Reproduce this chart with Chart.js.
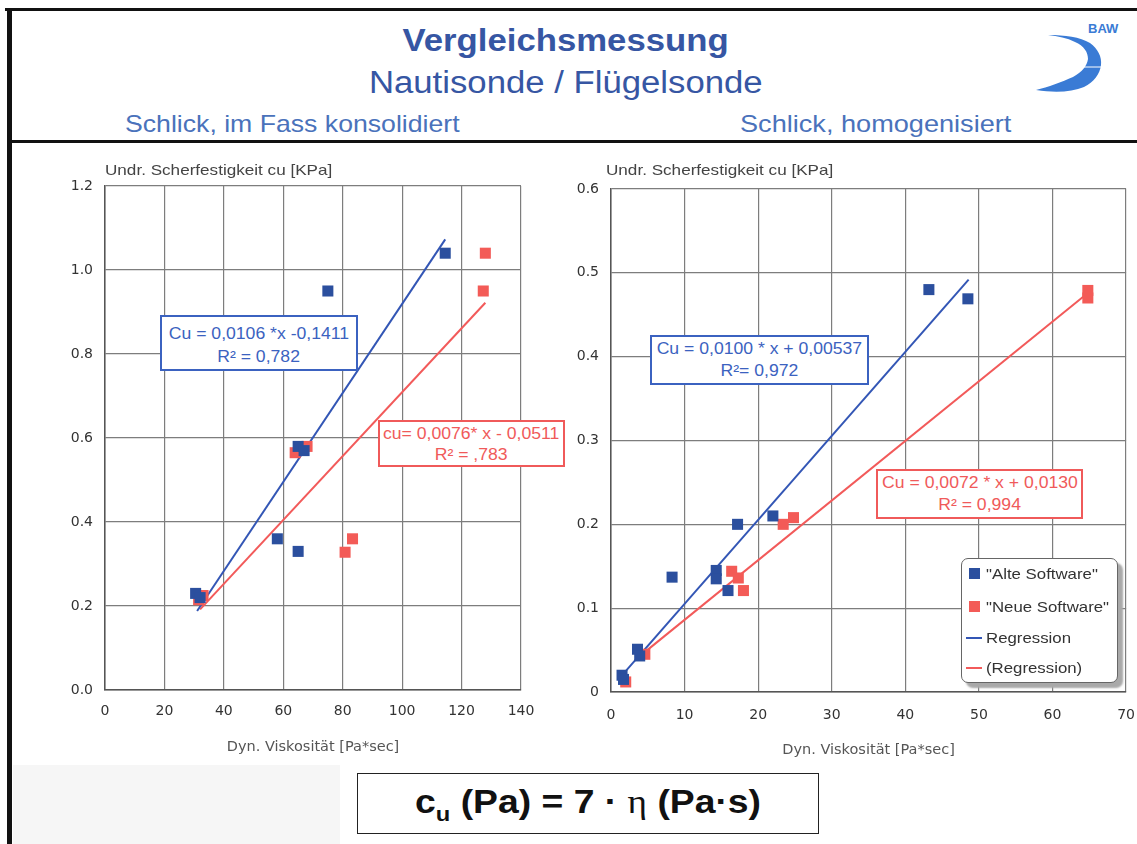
<!DOCTYPE html>
<html><head><meta charset="utf-8">
<script src="https://cdn.jsdelivr.net/npm/chart.js@4"></script>
<style>
html,body{margin:0;padding:0;background:#fff;overflow:hidden;width:1137px;height:844px;}
#page{position:relative;width:1137px;height:844px;overflow:hidden;font-family:"Liberation Sans",Arial,sans-serif;background:#fff;}
.abs{position:absolute;}
.sx{display:inline-block;transform:scaleX(1.12);white-space:nowrap;}
.sxl{display:inline-block;transform:scaleX(1.12);transform-origin:left center;white-space:nowrap;}
.box{position:absolute;box-sizing:border-box;background:#fff;text-align:center;font-size:16px;z-index:5;}
.box .sx{transform:scaleX(1.1);}
canvas{position:absolute;}
.leg{position:absolute;left:961px;top:558px;width:157px;height:125px;box-sizing:border-box;border:1px solid #666;border-radius:7px;background:#fff;box-shadow:5px 5px 2px #a9a9a9;z-index:5;font-size:15px;color:#333;}
.leg .row{position:absolute;left:0;height:20px;line-height:20px;}
</style></head>
<body><div id="page">
<div class="abs" style="left:13px;top:765px;width:327px;height:79px;background:#f6f6f6;"></div>
<canvas id="cL" width="560" height="607" style="left:0;top:150px;"></canvas>
<canvas id="cR" width="590" height="610" style="left:560px;top:150px;"></canvas>

<!-- frame -->
<div class="abs" style="left:5px;top:8px;width:1140px;height:3px;background:#111;z-index:6"></div>
<div class="abs" style="left:7px;top:8px;width:5px;height:840px;background:#111;z-index:6"></div>
<div class="abs" style="left:7px;top:140px;width:1140px;height:3px;background:#111;z-index:6"></div>

<!-- header -->
<div class="abs" style="left:0;top:21px;width:1132px;text-align:center;font-size:31px;font-weight:bold;line-height:40px;color:#3656a3;"><span class="sx">Vergleichsmessung</span></div>
<div class="abs" style="left:0;top:63px;width:1132px;text-align:center;font-size:31px;line-height:40px;color:#3656a3;"><span class="sx">Nautisonde / Flügelsonde</span></div>
<div class="abs" style="left:125px;top:110px;font-size:24px;line-height:28px;color:#4a72bb;"><span class="sxl" style="transform:scaleX(1.11)">Schlick, im Fass konsolidiert</span></div>
<div class="abs" style="left:740px;top:110px;font-size:24px;line-height:28px;color:#4a72bb;"><span class="sxl" style="transform:scaleX(1.13)">Schlick, homogenisiert</span></div>

<!-- logo -->
<svg class="abs" style="left:1020px;top:10px;" width="117" height="100" viewBox="0 0 117 100">
<path d="M28,25 C45,25 60,27 70,33 C78,39 82,47 81,55 C80,64 74,72 64,77 C52,82 35,83 16,80 C28,77 42,72 53,67 C62,62 67,56 68,49 C68,42 64,36 55,32 C47,28 38,26 28,25 Z" fill="#3a7bd5"/>
<line x1="62" y1="57" x2="100" y2="57" stroke="#fff" stroke-width="1"/>
<text x="68" y="23" font-family="Liberation Sans, Arial" font-weight="bold" font-size="13" fill="#3a7bd5">BAW</text>
</svg>

<!-- axis titles (y) -->
<div class="abs" style="left:105px;top:161px;font-size:14.5px;line-height:18px;color:#444;"><span class="sxl" style="transform:scaleX(1.18)">Undr. Scherfestigkeit cu [KPa]</span></div>
<div class="abs" style="left:606px;top:161px;font-size:14.5px;line-height:18px;color:#444;"><span class="sxl" style="transform:scaleX(1.18)">Undr. Scherfestigkeit cu [KPa]</span></div>

<!-- annotation boxes -->
<div class="box" style="left:160px;top:315px;width:198px;height:56px;border:2px solid #3b62c0;color:#3b62c0;line-height:23px;padding-top:5px;"><span class="sx">Cu = 0,0106 *x -0,1411</span><br><span class="sx">R² = 0,782</span></div>
<div class="box" style="left:378px;top:420px;width:187px;height:47px;border:2px solid #f05a5a;color:#f05a5a;line-height:21px;padding-top:1px;"><span class="sx">cu= 0,0076* x - 0,0511</span><br><span class="sx">R² = ,783</span></div>
<div class="box" style="left:650px;top:335px;width:219px;height:50px;border:2px solid #3b62c0;color:#3b62c0;line-height:22px;padding-top:1px;"><span class="sx">Cu = 0,0100 * x + 0,00537</span><br><span class="sx">R²= 0,972</span></div>
<div class="box" style="left:876px;top:469px;width:207px;height:50px;border:2px solid #f05a5a;color:#f05a5a;line-height:22px;padding-top:1px;"><span class="sx">Cu = 0,0072 * x + 0,0130</span><br><span class="sx">R² = 0,994</span></div>

<!-- legend -->
<div class="leg">
 <div class="row" style="top:5px;"><span style="position:absolute;left:7px;top:4px;width:11px;height:11px;background:#2b4f9e;"></span><span class="sxl" style="position:absolute;left:24px;transform:scaleX(1.12)">"Alte Software"</span></div>
 <div class="row" style="top:38px;"><span style="position:absolute;left:7px;top:4px;width:11px;height:11px;background:#f35b57;"></span><span class="sxl" style="position:absolute;left:24px;transform:scaleX(1.12)">"Neue Software"</span></div>
 <div class="row" style="top:69px;"><span style="position:absolute;left:4px;top:9px;width:16px;height:2px;background:#3356b5;"></span><span class="sxl" style="position:absolute;left:24px;transform:scaleX(1.12)">Regression</span></div>
 <div class="row" style="top:99px;"><span style="position:absolute;left:4px;top:9px;width:16px;height:2px;background:#f25a5a;"></span><span class="sxl" style="position:absolute;left:24px;transform:scaleX(1.12)">(Regression)</span></div>
</div>

<!-- formula -->
<div class="abs" style="left:357px;top:773px;width:462px;height:61px;box-sizing:border-box;border:1.5px solid #222;background:#fff;text-align:center;font-size:33px;font-weight:bold;line-height:56px;color:#111;"><span class="sx" style="transform:scaleX(1.13)">c<sub style="font-size:21px;vertical-align:-8px;">u</sub> (Pa) = 7 · <span style="font-family:'Liberation Serif',serif;font-weight:normal;">η</span> (Pa·s)</span></div>
</div>

<script>
// ---- data ----
const leftAltX = [114.5, 75, 65, 67, 58, 65, 30.5, 32];
const leftAltY = [1.04, 0.95, 0.58, 0.57, 0.36, 0.33, 0.23, 0.22];
const leftNeuX = [128, 127.3, 64, 68, 83.3, 80.8, 31.5, 33];
const leftNeuY = [1.04, 0.95, 0.565, 0.58, 0.36, 0.328, 0.215, 0.225];
const leftRegAltX = [31, 114.5];
const leftRegAltY = [0.188, 1.073];
const leftRegNeuX = [32, 128];
const leftRegNeuY = [0.192, 0.922];

const rightAltX = [43.2, 48.5, 22, 17.2, 8.3, 14.3, 14.3, 15.9, 3.6, 3.9, 1.5, 1.7];
const rightAltY = [0.48, 0.469, 0.21, 0.20, 0.137, 0.145, 0.135, 0.121, 0.051, 0.043, 0.02, 0.015];
const rightNeuX = [64.8, 64.8, 24.8, 23.4, 16.4, 17.3, 18.0, 4.6, 2.0];
const rightNeuY = [0.479, 0.47, 0.208, 0.20, 0.144, 0.136, 0.121, 0.045, 0.012];
const rightRegAltX = [1.1, 48.6];
const rightRegAltY = [0.016, 0.492];
const rightRegNeuX = [4.5, 64.8];
const rightRegNeuY = [0.047, 0.476];

const leftXTicks = [0, 140, 20];
const leftYTicks = [0, 1.2, 0.2];
const rightXTicks = [0, 70, 10];
const rightYTicks = [0, 0.6, 0.1];

const seriesNames = ['"Alte Software"', '"Neue Software"', 'Regression', '(Regression)'];
const xTitle = 'Dyn. Viskosität [Pa*sec]';

const BLUE_PT = '#2b4f9e', RED_PT = '#f35b57', BLUE_LN = '#3356b5', RED_LN = '#f25a5a';
const zip = (xs, ys) => xs.map((x, i) => ({x, y: ys[i]}));

function build(id, d) {
  const font = {family: 'DejaVu Sans', size: 14};
  new Chart(document.getElementById(id), {
    type: 'scatter',
    data: {datasets: [
      {label: seriesNames[0], data: zip(d.ax, d.ay), pointStyle: 'rect', pointRadius: 7.8, pointBackgroundColor: BLUE_PT, pointBorderWidth: 0, showLine: false},
      {label: seriesNames[1], data: zip(d.nx, d.ny), pointStyle: 'rect', pointRadius: 7.8, pointBackgroundColor: RED_PT, pointBorderWidth: 0, showLine: false},
      {label: seriesNames[2], data: zip(d.rax, d.ray), showLine: true, pointRadius: 0, borderColor: BLUE_LN, borderWidth: 2},
      {label: seriesNames[3], data: zip(d.rnx, d.rny), showLine: true, pointRadius: 0, borderColor: RED_LN, borderWidth: 2}
    ]},
    options: {
      responsive: false, animation: false, events: [],
      layout: {padding: d.pad},
      plugins: {legend: {display: false}, tooltip: {enabled: false}},
      scales: {
        x: {type: 'linear', min: d.xt[0], max: d.xt[1],
            ticks: {stepSize: d.xt[2], color: '#333', font, padding: d.xpad},
            grid: {color: '#7d7d7d', lineWidth: 1.2, drawTicks: false},
            border: {color: '#555', width: 1.5},
            title: {display: true, text: xTitle, color: '#555', font: {family: 'DejaVu Sans', size: 14.5}, padding: {top: 0, bottom: 1}},
            afterFit(s) { s.height = d.xh; }},
        y: {type: 'linear', min: d.yt[0], max: d.yt[1],
            ticks: {stepSize: d.yt[2], color: '#333', font, padding: 12, callback: d.ycb},
            grid: {color: '#7d7d7d', lineWidth: 1.2, drawTicks: false},
            border: {color: '#555', width: 1.5},
            afterFit(s) { s.width = d.yw; }}
      }
    }
  });
}

build('cL', {ax: leftAltX, ay: leftAltY, nx: leftNeuX, ny: leftNeuY,
  rax: leftRegAltX, ray: leftRegAltY, rnx: leftRegNeuX, rny: leftRegNeuY,
  xt: leftXTicks, yt: leftYTicks, pad: {top: 36, right: 39, bottom: 0, left: 0},
  xh: 67, yw: 105, xpad: 13, ycb: v => v.toFixed(1)});

build('cR', {ax: rightAltX, ay: rightAltY, nx: rightNeuX, ny: rightNeuY,
  rax: rightRegAltX, ray: rightRegAltY, rnx: rightRegNeuX, rny: rightRegNeuY,
  xt: rightXTicks, yt: rightYTicks, pad: {top: 39, right: 22, bottom: 0, left: 0},
  xh: 68, yw: 51, xpad: 15, ycb: v => (Math.abs(v) < 1e-9 ? '0' : v.toFixed(1))});
</script>
</body></html>
